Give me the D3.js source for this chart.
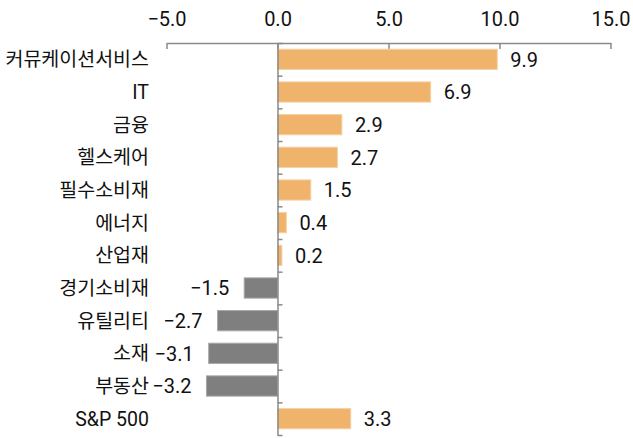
<!DOCTYPE html>
<html>
<head>
<meta charset="utf-8">
<script src="https://cdnjs.cloudflare.com/ajax/libs/d3/7.8.5/d3.min.js"></script>
<style>
  body { margin: 0; background: #fff; }
  text { font-family: Roboto, "Noto Sans CJK KR", sans-serif; fill: #111; }
</style>
</head>
<body>
<div id="chart"></div>
<script>
width = 633;
height = 438;

categories = ["커뮤케이션서비스", "IT", "금융", "헬스케어", "필수소비재", "에너지", "산업재",
              "경기소비재", "유틸리티", "소재", "부동산", "S&P 500"];
values = [9.9, 6.9, 2.9, 2.7, 1.5, 0.4, 0.2, -1.5, -2.7, -3.1, -3.2, 3.3];
xTicks = [-5, 0, 5, 10, 15];

var xScale = d3.scaleLinear().domain([-5, 15]).range([166.5, 610.5]);
var yScale = d3.scaleBand().domain(categories).range([43, 435]).paddingInner(0.38).paddingOuter(0.19);

var plot = d3.select("#chart").append("svg")
    .attr("width", width)
    .attr("height", height);

// top axis
var xAxis = d3.axisTop(xScale)
    .tickValues(xTicks)
    .tickFormat(d3.format(".1f"))
    .tickSizeInner(-6)
    .tickSizeOuter(0)
    .tickPadding(17);

var gx = plot.append("g")
    .attr("transform", "translate(0,43)")
    .call(xAxis);
gx.selectAll("path, line").attr("stroke", "#8a8a8a").attr("stroke-width", 1.5);
gx.selectAll("text").style("font-size", "20px").attr("fill", "#111");

// bars
plot.selectAll("rect.bar")
    .data(values)
    .enter()
    .append("rect")
    .attr("class", "bar")
    .attr("x", function(d) { return xScale(Math.min(0, d)); })
    .attr("y", function(d, i) { return yScale(categories[i]); })
    .attr("width", function(d) { return Math.abs(xScale(d) - xScale(0)); })
    .attr("height", yScale.bandwidth())
    .attr("fill", function(d) { return d >= 0 ? "#f0b36b" : "#7f7f7f"; })
    .attr("stroke", function(d) { return d >= 0 ? "#f6d2a6" : "#a8a8a8"; })
    .attr("stroke-width", 1);

// zero line with band separators
var step = yScale.step();
var bounds = d3.range(categories.length + 1).map(function(i) { return 43 + i * step; });
var yLine = d3.scaleLinear().domain([43, 435]).range([43, 435]);
var gy = plot.append("g")
    .attr("transform", "translate(" + xScale(0) + ",0)")
    .call(d3.axisRight(yLine).tickValues(bounds).tickFormat("").tickSizeInner(5).tickSizeOuter(0));
gy.selectAll("path, line").attr("stroke", "#8a8a8a").attr("stroke-width", 1.5);

// category labels
plot.selectAll("text.cat")
    .data(categories)
    .enter()
    .append("text")
    .attr("class", "cat")
    .attr("x", 149)
    .attr("y", function(d) { return yScale(d) + yScale.bandwidth() / 2; })
    .attr("dy", "0.36em")
    .attr("text-anchor", "end")
    .style("font-size", "19.5px")
    .text(function(d) { return d; });

// value labels
plot.selectAll("text.val")
    .data(values)
    .enter()
    .append("text")
    .attr("class", "val")
    .attr("x", function(d) { return d >= 0 ? xScale(d) + 13 : xScale(d) - 15; })
    .attr("y", function(d, i) { return yScale(categories[i]) + yScale.bandwidth() / 2; })
    .attr("dy", "0.36em")
    .attr("text-anchor", function(d) { return d >= 0 ? "start" : "end"; })
    .style("font-size", "20px")
    .text(function(d) { return d3.format(".1f")(d); });
</script>
</body>
</html>
